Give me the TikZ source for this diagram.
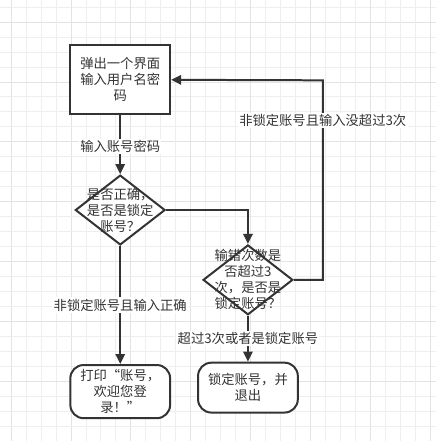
\documentclass[tikz,border=0pt]{standalone}
\usepackage{fontspec}
\setmainfont{Noto Sans CJK SC}
\usepackage{tikz}
\usetikzlibrary{shapes.geometric, arrows.meta}
\definecolor{ink}{HTML}{333333}
\tikzset{x=0.75pt, y=-0.75pt, % one unit is one pixel of the reference
every node/.style={ % Sets the properties for each node
text=ink, font=\fontsize{10}{12}\selectfont},
box/.style={ % Plain process box
draw=ink, line width=1.5pt, fill=white,
minimum width=75pt, minimum height=51.75pt, align=center},
decision/.style={ % Question diamond, its text is a label
diamond, draw=ink, line width=1.5pt, fill=white,
minimum width=67.5pt, minimum height=52.5pt, inner sep=0pt},
terminal/.style={ % Rounded end box
draw=ink, line width=1.5pt, fill=white, rounded corners=10pt,
minimum width=75pt, minimum height=37.5pt, align=center},
flow/.style={ % Sets the properties for each connector
draw=ink, line width=1.5pt, -{Triangle[length=7.5pt, width=7pt]}},
lbl/.style={ % Labels on connectors
fill=white, inner sep=1pt}}

\begin{document}
\begin{tikzpicture}

    % background grid
    \fill[white] (0,0) rectangle (436,441);
    \foreach \i in {0,...,28} {
        \pgfmathsetmacro{\gx}{10.7+15*\i}
        \pgfmathsetmacro{\gy}{6.7+15*\i}
        \pgfmathtruncatemacro{\mx}{mod(\i,4)}
        \pgfmathtruncatemacro{\my}{mod(\i,4)}
        \ifnum\mx=0 \draw[gray!22, line width=0.75pt] (\gx,0) -- (\gx,441);
        \else \draw[gray!13, line width=0.75pt] (\gx,0) -- (\gx,441); \fi
        \ifnum\my=1 \draw[gray!22, line width=0.75pt] (0,\gy) -- (436,\gy);
        \else \draw[gray!13, line width=0.75pt] (0,\gy) -- (436,\gy); \fi
    }
    \useasboundingbox (0,0) rectangle (436,441);

    \node[box] (popup) at (120,79.5) {弹出一个界面\\输入用户名密\\码};
    \node[decision, label={[align=center]center:是否正确，\\是否是锁定\\账号？}] (check) at (120,210) {};
    \node[decision, label={[align=center]center:输错次数是\\否超过3\\次，是否是\\锁定账号？}] (count) at (248,280) {};
    \node[terminal] (welcome) at (120,392) {打印“账号，\\欢迎您登\\录！”};
    \node[terminal] (lock) at (248,388) {锁定账号，并\\退出};
    \coordinate (back) at (323,80);

    \draw[flow] (popup) -- node[lbl, pos=0.53] {输入账号密码} (check);
    \draw[flow] (check.east) -| (count.north);
    \draw[flow] (check) -- node[lbl, pos=0.5] {非锁定账号且输入正确} (welcome);
    \draw[flow] (count) -- node[lbl, pos=0.5] {超过3次或者是锁定账号} (lock);
    \draw[flow] (count.east) -| node[lbl, pos=0.9] {非锁定账号且输入没超过3次} (back) -- (popup.east);

\end{tikzpicture}
\end{document}
